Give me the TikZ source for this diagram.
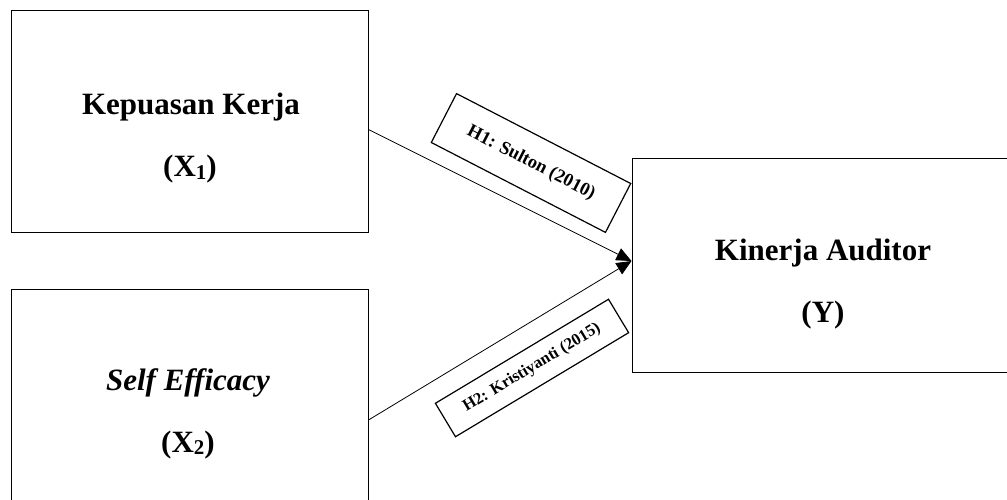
\documentclass[tikz,border=0pt]{standalone}
\usepackage{fontspec}
\setmainfont{Liberation Serif}
\usetikzlibrary{arrows.meta}
\newcommand{\subdig}[1]{\raisebox{-2pt}{\fontsize{21}{21}\selectfont #1}}
\begin{document}
\begin{tikzpicture}[x=1pt,y=-1pt,
  varbox/.style={draw,line width=1pt,inner sep=0pt},
  maintext/.style={anchor=base,font=\fontsize{31}{36}\selectfont\bfseries,inner sep=0pt},
  hypbox/.style={draw,line width=1.2pt,inner sep=0pt,font=\bfseries},
  link/.style={line width=0.8pt,-{Triangle[length=15pt,width=13pt]}}]
\clip (0,0) rectangle (1007,500);
\useasboundingbox (0,0) rectangle (1007,500);
\fill[white] (0,0) rectangle (1007,500);
% boxes
\node[varbox,minimum width=357pt,minimum height=221pt] (bx1) at (189.5,121.5) {};
\node[varbox,minimum width=357pt,minimum height=213pt] (bx2) at (189.5,395.5) {};
\node[varbox,minimum width=380pt,minimum height=213pt] (by) at (822,265.5) {};
% texts
\node[maintext] (t1a) at (191,115) {Kepuasan Kerja};
\node[maintext] (t1b) at (190,177) {(X\subdig{1})};
\node[maintext] (t2a) at (188,390) {\itshape Self Efficacy};
\node[maintext] (t2b) at (188,452) {(X\subdig{2})};
\node[maintext] (tya) at (823,260) {Kinerja Auditor};
\node[maintext] (tyb) at (823,322) {(Y)};
% connectors
\draw[link] ([yshift=-8pt]bx1.east) -- ([yshift=4.5pt]by.west);
\draw[link] ([yshift=-24.5pt]bx2.east) -- ([yshift=4.5pt]by.west);
% hypothesis labels
\node[hypbox,minimum width=196pt,minimum height=55pt,rotate=-27.3,font=\fontsize{18.5}{22}\selectfont\bfseries] (h1) at (531,163) {H1: Sulton (2010)};
\node[hypbox,minimum width=202pt,minimum height=39pt,rotate=31,font=\fontsize{16.5}{19}\selectfont\bfseries] (h2) at (532,368) {H2: Kristiyanti (2015)};
\end{tikzpicture}
\end{document}
